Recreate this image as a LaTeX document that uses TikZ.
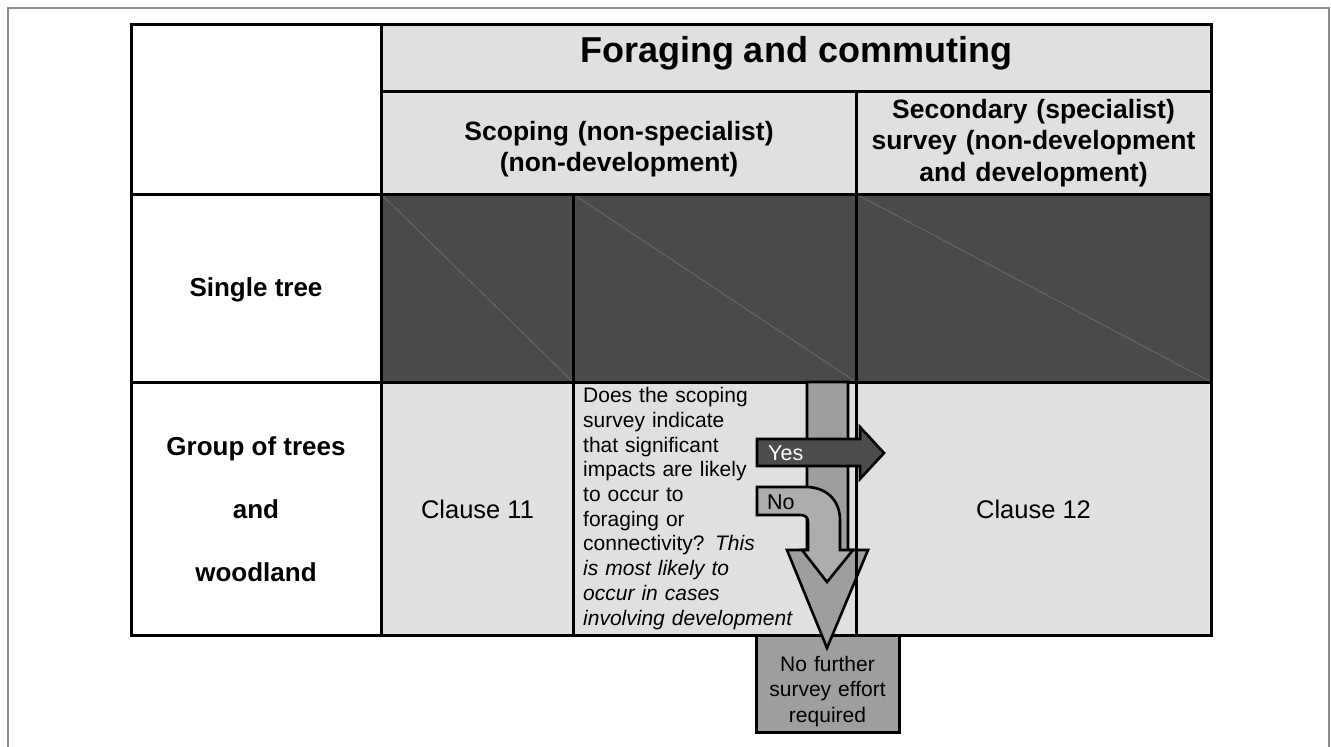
\documentclass[tikz,border=0pt]{standalone}
\usepackage{fontspec}
\setmainfont{Liberation Sans}
\definecolor{cellgray}{HTML}{E0E0E0}
\definecolor{darkcell}{HTML}{4A4A4A}
\definecolor{arrowgray}{HTML}{9E9E9E}
\definecolor{yesgray}{HTML}{4D4D4D}
\definecolor{framegray}{HTML}{8C8C8C}
\begin{document}
\begin{tikzpicture}[x=1pt,y=-1pt,
  grid/.style={line width=3pt, black},
  lightcell/.style={fill=cellgray},
  darkbox/.style={fill=darkcell},
  diag/.style={line width=0.6pt, gray!75!darkcell},
  arrowshape/.style={line width=2.6pt, draw=black, line join=miter},
  titlefont/.style={font=\fontsize{36}{40}\selectfont\bfseries, inner sep=0pt},
  headfont/.style={font=\fontsize{26.5}{31.5}\selectfont\bfseries, align=center, inner sep=0pt},
  rowfont/.style={font=\fontsize{26}{30}\selectfont\bfseries, inner sep=0pt},
  bodyfont/.style={font=\fontsize{25.5}{30}\selectfont, inner sep=0pt},
  qfont/.style={font=\fontsize{21}{24.7}\selectfont, align=left, inner sep=0pt, text width=280pt},
  arrowlab/.style={font=\fontsize{21.5}{24}\selectfont, inner sep=0pt},
  boxfont/.style={font=\fontsize{21}{25.5}\selectfont, align=center, inner sep=0pt, text width=140pt}
]
\useasboundingbox (0,0) rectangle (1331,747);
% outer frame
\draw[framegray, line width=1.5pt] (8,747) -- (8,8) -- (1329,8) -- (1329,747);

% cell fills
\fill[white] (131,24) rectangle (381,635);
\fill[lightcell] (381,24) rectangle (1211,194);
\fill[darkbox] (381,194) rectangle (1211,382);
\fill[lightcell] (381,382) rectangle (1211,635);
\draw[diag] (381,194) -- (573,382);
\draw[diag] (573,194) -- (856,382);
\draw[diag] (856,194) -- (1211,382);

% grid
\draw[grid] (131,24) rectangle (1211,635);
\draw[grid] (381,24) -- (381,635);
\draw[grid] (381,91) -- (1211,91);
\draw[grid] (131,194) -- (1211,194);
\draw[grid] (131,382) -- (1211,382);
\draw[grid] (856,91) -- (856,635);
\draw[grid] (573,194) -- (573,635);

% texts
\node[titlefont, anchor=base] (title) at (796,62) {Foraging and commuting};
\node[headfont, text width=420pt, anchor=base] (scoping) at (619,140) {Scoping (non-specialist)\\(non-development)};
\node[headfont, text width=350pt, anchor=base] (secondary) at (1033.5,118) {Secondary (specialist)\\survey (non-development\\and development)};
\node[rowfont, anchor=base] (single) at (256,296) {Single tree};
\node[rowfont, anchor=base] (group1) at (256,455) {Group of trees};
\node[rowfont, anchor=base] (group2) at (256,518) {and};
\node[rowfont, anchor=base] (group3) at (256,581) {woodland};
\node[bodyfont, anchor=base] (clause11) at (477.5,518) {Clause 11};
\node[bodyfont, anchor=base] (clause12) at (1033.5,518) {Clause 12};
\node[qfont, anchor=base west] (question) at (583,402.7) {Does the scoping\\survey indicate\\that significant\\impacts are likely\\to occur to\\foraging or\\connectivity? \textit{This}\\\textit{is most likely to}\\\textit{occur in cases}\\\textit{involving development}};

% no further box
\draw[grid, fill=arrowgray] (756,635) rectangle (899,732);
\node[boxfont, anchor=base] (nofurther) at (827.5,671) {No further\\survey effort\\required};

% big arrow
\draw[arrowshape, fill=arrowgray] (807,382) -- (848,382) -- (848,550) -- (868,550) -- (827,648) -- (787,550) -- (807,550) -- cycle;
\draw[grid] (856,382) -- (856,635);

% No arrow
\draw[arrowshape, fill=arrowgray!85!white] (757,487) -- (806,487) .. controls (826,487) and (840,500) .. (840,520) -- (840,550) -- (853,550) -- (827,582) -- (802,550) -- (808,550) -- (808,522) .. controls (808,517) and (805,515) .. (800,515) -- (757,515) -- cycle;
\node[arrowlab, anchor=base west] (no) at (767,509) {No};

% Yes arrow
\draw[arrowshape, fill=yesgray] (757,439) -- (860,439) -- (860,427) -- (884,453) -- (860,479) -- (860,466) -- (757,466) -- cycle;
\node[arrowlab, anchor=base west, text=white] (yes) at (768,460) {Yes};
\end{tikzpicture}
\end{document}
